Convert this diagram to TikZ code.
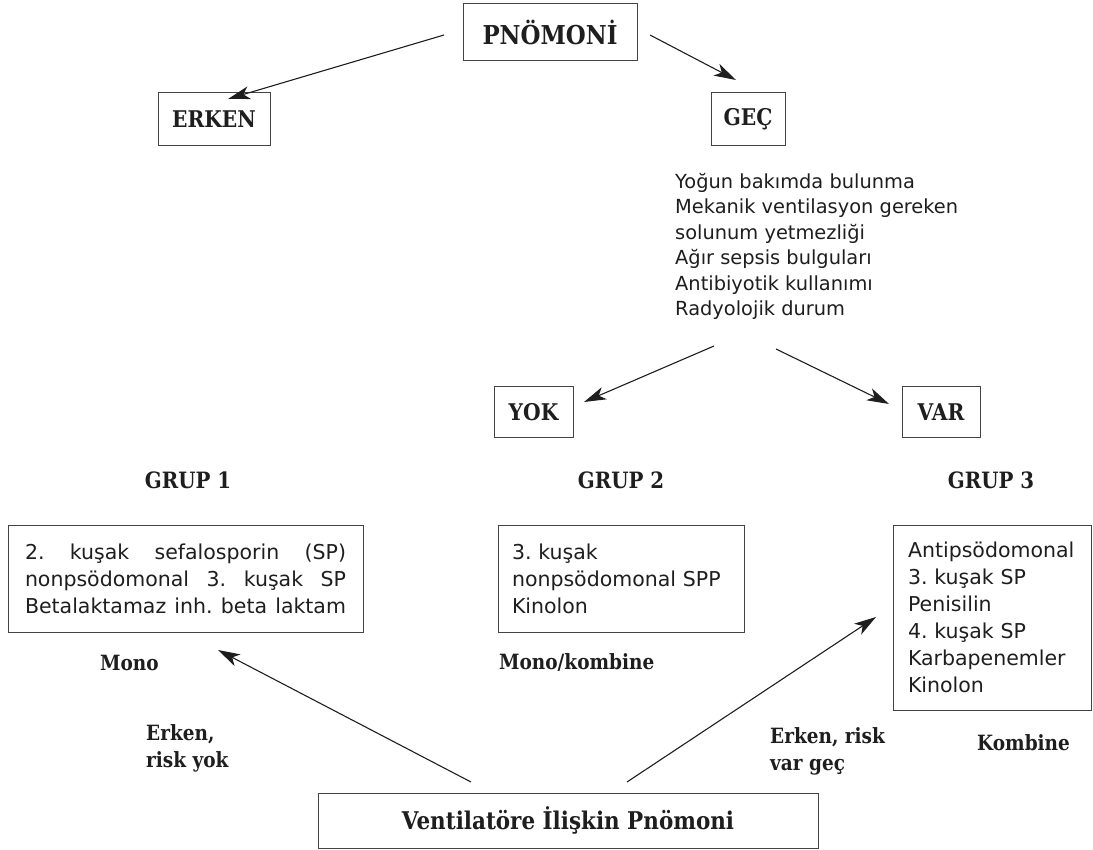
\documentclass[tikz,border=0pt]{standalone}
\usepackage{fontspec}
\setmainfont{DejaVu Sans}
\newfontfamily\labfont{DejaVu Serif}[FakeStretch=0.88]
\usetikzlibrary{arrows.meta}
\definecolor{ink}{HTML}{1E1E1E}
\definecolor{frame}{HTML}{444444}
\frenchspacing
\newcommand\jline[1]{\leavevmode\hbox to 321pt{#1}}
\begin{document}
\begin{tikzpicture}[x=1pt,y=-1pt,
  box/.style={draw=frame, line width=1pt, inner sep=0pt, text=ink},
  blab/.style={font=\labfont\bfseries\fontsize{23}{27}\selectfont},
  lab/.style={font=\labfont\bfseries\fontsize{21}{27}\selectfont, inner sep=0pt, align=left, text=ink},
  glab/.style={font=\labfont\bfseries\fontsize{22.5}{27}\selectfont, inner sep=0pt, text=ink},
  body/.style={font=\fontsize{19.4}{25.5}\selectfont, inner sep=0pt, align=left, text=ink},
  boxbody/.style={font=\fontsize{20.5}{27}\selectfont, align=left},
  arr/.style={-{Stealth[length=22pt,width=13pt,inset=6pt]}, line width=1.1pt, draw=ink}]
\useasboundingbox (0,0) rectangle (1093,850);

% top boxes
\node[box, minimum width=174, minimum height=57,
  font=\labfont\bfseries\fontsize{26}{30}\selectfont] (pn) at (550,32.5) {PNÖMONİ};
\node[box, blab, minimum width=112, minimum height=53] (erken) at (214,119.5) {ERKEN};
\node[box, blab, minimum width=74, minimum height=53] (gec) at (748,119.5) {GEÇ};

% criteria text
\node[body, anchor=north west] (crit) at (675,173) {Yoğun bakımda bulunma\\
Mekanik ventilasyon gereken\\
solunum yetmezliği\\
Ağır sepsis bulguları\\
Antibiyotik kullanımı\\
Radyolojik durum};

\node[box, blab, minimum width=79, minimum height=50] (yok) at (533.5,412) {YOK};
\node[box, blab, minimum width=78, minimum height=50] (var) at (941,412) {VAR};

% group labels
\node[glab] (gr1) at (188,480) {GRUP 1};
\node[glab] (gr2) at (621,480) {GRUP 2};
\node[glab] (gr3) at (991,480) {GRUP 3};

% group boxes
\node[box, boxbody, inner xsep=17pt, text width=321pt, minimum height=107] (g1) at (185.5,578.5)
 {\jline{2.\hfill kuşak\hfill sefalosporin\hfill (SP)}\\
  \jline{nonpsödomonal\hfill 3.\hfill kuşak\hfill SP}\\
  \jline{Betalaktamaz\hfill inh.\hfill beta\hfill laktam}};
\node[box, boxbody, inner xsep=14pt, text width=218pt, minimum height=107] (g2) at (621,578.5)
 {3. kuşak\\nonpsödomonal SPP\\Kinolon};
\node[box, boxbody, inner xsep=15pt, text width=168pt, minimum height=185] (g3) at (992,617.5)
 {Antipsödomonal\\3. kuşak SP\\Penisilin\\4. kuşak SP\\Karbapenemler\\Kinolon};

% therapy labels
\node[lab, anchor=west] (mono) at (100,663) {Mono};
\node[lab, anchor=west] (monokomb) at (499,662) {Mono/kombine};
\node[lab, anchor=west] (komb) at (977,743) {Kombine};
\node[lab, anchor=west] (erkenrisk) at (146,748) {Erken,\\risk yok};
\node[lab, anchor=west] (erkenvar) at (770,751) {Erken, risk\\var geç};

% bottom box
\node[box, minimum width=500, minimum height=55,
  font=\labfont\bfseries\fontsize{24.4}{28}\selectfont] (vap) at (568,820.5) {Ventilatöre İlişkin Pnömoni};

% connector ends
\coordinate (pnL) at (444,35);
\coordinate (pnR) at (650,35);
\coordinate (erkenT) at (228,99);
\coordinate (gecT) at (736,80);
\coordinate (critL) at (714,346);
\coordinate (critR) at (776,349);
\coordinate (yokT) at (584,402);
\coordinate (varT) at (889,404);
\coordinate (vapL) at (471,782);
\coordinate (vapR) at (627,782);
\coordinate (g1T) at (218,650);
\coordinate (g3T) at (876,617);

\draw[arr] (pnL) -- (erkenT);
\draw[arr] (pnR) -- (gecT);
\draw[arr] (critL) -- (yokT);
\draw[arr] (critR) -- (varT);
\draw[arr] (vapL) -- (g1T);
\draw[arr] (vapR) -- (g3T);
\end{tikzpicture}
\end{document}
